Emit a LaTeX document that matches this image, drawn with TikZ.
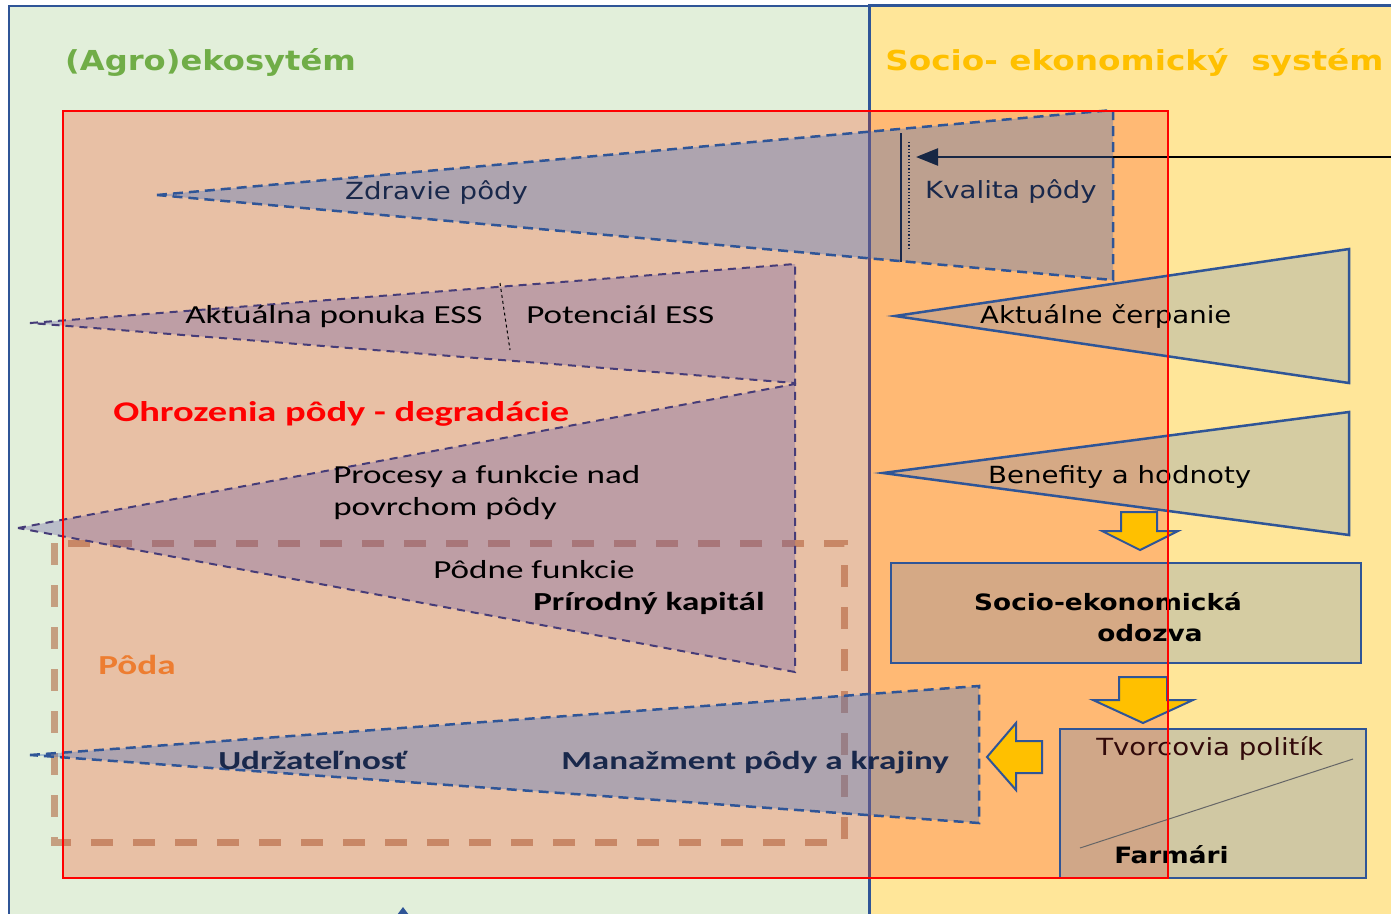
\documentclass[tikz,border=0pt]{standalone}
\usepackage{fontspec}
\setmainfont{DejaVu Sans}
\newfontfamily\calfont{Carlito}
\usepackage{xcolor}
\usetikzlibrary{arrows.meta}

\definecolor{ecogreen}{RGB}{226,239,218}
\definecolor{socyellow}{RGB}{255,230,153}
\definecolor{frameblue}{RGB}{47,85,151}
\definecolor{midblue}{RGB}{68,114,196}
\definecolor{titlegreen}{RGB}{112,173,71}
\definecolor{titlegold}{RGB}{255,192,0}
\definecolor{threatfill}{RGB}{255,45,0}
\definecolor{soilbrown}{RGB}{170,80,40}
\definecolor{essfill}{RGB}{95,80,165}
\definecolor{essline}{RGB}{70,60,120}
\definecolor{navytext}{RGB}{25,40,75}
\definecolor{podaorange}{RGB}{237,125,49}
\definecolor{policytext}{RGB}{50,10,10}

\begin{document}
\begin{tikzpicture}[x=1pt, y=-1pt,
    vlab/.style={inner sep=0pt, anchor=base west, xscale=1.17, font=\fontsize{23.6}{28}\selectfont},
    vbold/.style={vlab, font=\bfseries\fontsize{22.5}{27}\selectfont},
    title/.style={vlab, font=\bfseries\fontsize{27.5}{33}\selectfont},
    clab/.style={inner sep=0pt, anchor=base west, xscale=1.35, font=\calfont\fontsize{26}{31}\selectfont},
    cbold/.style={clab, font=\calfont\bfseries\fontsize{26}{31}\selectfont},
    healthwedge/.style={draw=frameblue, line width=2.5pt, dash pattern=on 10pt off 6pt, fill=midblue, fill opacity=.35},
    esswedge/.style={draw=essline, line width=2pt, dash pattern=on 8pt off 6pt, fill=essfill, fill opacity=.3},
    usewedge/.style={draw=frameblue, line width=2.5pt, fill=midblue, fill opacity=.22},
    sysbox/.style={rectangle, draw=frameblue, line width=2.5pt, fill=midblue, fill opacity=.22, inner sep=0pt},
    blockarrow/.style={draw=frameblue, line width=2pt, fill=titlegold, line join=miter}
  ]
  \useasboundingbox (0,0) rectangle (1391,913);
  \clip (0,0) rectangle (1391,913);

  % the two systems
  \draw[frameblue, line width=1.5pt, fill=ecogreen] (9,6) rectangle (869,940);
  \draw[frameblue, line width=3pt, fill=socyellow] (869,5) rectangle (1400,940);

  % threats area
  \coordinate (thr-nw) at (63,111);
  \coordinate (thr-se) at (1168,878);
  \fill[threatfill, fill opacity=.24] (thr-nw) rectangle (thr-se);

  % soil (Poda)
  \draw[soilbrown, draw opacity=.5, line width=7pt, dash pattern=on 22pt off 20pt] (54,543) rectangle (844,842);

  % quality arrow from the right
  \coordinate (qsrc) at (1400,157);
  \coordinate (qtip) at (916,157);
  \draw[-{Triangle[length=22pt,width=17pt]}, line width=2.5pt] (qsrc) -- (qtip);

  % wedges, agroecosystem side
  \draw[healthwedge] (157,195) -- (1113,110) -- (1113,280) -- cycle;
  \draw[esswedge] (30,323) -- (795,264) -- (795,383) -- cycle;
  \draw[esswedge] (18,528) -- (795,384) -- (795,672) -- cycle;
  \draw[healthwedge] (30,755) -- (979,686) -- (979,823) -- cycle;

  % separators
  \draw[navytext, line width=1.5pt] (901,133) -- (901,262);
  \draw[navytext, line width=1.3pt, dotted] (909,142) -- (909,248);
  \draw[black, line width=1pt, dash pattern=on 3pt off 3pt] (500,283) -- (510,350);

  % wedges, socio-economic side
  \draw[usewedge] (895,316) -- (1349,249) -- (1349,383) -- cycle;
  \draw[usewedge] (883,473) -- (1349,412) -- (1349,535) -- cycle;

  % boxes
  \node[sysbox, minimum width=470pt, minimum height=100pt] (odozvabox) at (1126,613) {};
  \node[sysbox, minimum width=306pt, minimum height=149pt, fill opacity=.25] (politikabox) at (1213,803.5) {};
  \draw[black!60, line width=1pt] (1080,848) -- (1353,759);

  % yellow arrows
  \draw[blockarrow] (1121,512) -- (1157,512) -- (1157,531) -- (1178,531) -- (1140,550) -- (1102,531) -- (1121,531) -- cycle;
  \draw[blockarrow] (1119,677) -- (1167,677) -- (1167,700) -- (1193,700) -- (1143,723) -- (1093,700) -- (1119,700) -- cycle;
  \draw[blockarrow] (1042,741) -- (1016,741) -- (1016,723) -- (987,757) -- (1016,790) -- (1016,773) -- (1042,773) -- cycle;

  % arrow coming from below
  \coordinate (botsrc) at (403,950);
  \coordinate (bottip) at (403,907);
  \draw[-{Triangle[length=9pt,width=13pt]}, frameblue, line width=2pt] (botsrc) -- (bottip);

  % titles
  \node[title, titlegreen] (agrotitle) at (65,70) {(Agro)ekosytém};
  \node[title, titlegold, xscale=1.19/1.17] (soctitle) at (885,70) {Socio- ekonomický~~systém};

  % labels
  \node[vlab, navytext] (zdravie) at (345,199) {Zdravie pôdy};
  \node[vlab, navytext] (kvalita) at (925,198) {Kvalita pôdy};
  \node[clab] (ponuka) at (185,323) {Aktuálna ponuka ESS};
  \node[clab] (potencial) at (526,323) {Potenciál ESS};
  \node[cbold, red, font=\calfont\bfseries\fontsize{28.5}{33}\selectfont] (ohrozenia) at (113,421) {Ohrozenia pôdy - degradácie};
  \node[clab] (procesyA) at (333,483) {Procesy a funkcie nad};
  \node[clab] (procesyB) at (333,515) {povrchom pôdy};
  \node[clab] (podnefunkcie) at (433,578) {Pôdne funkcie};
  \node[cbold] (kapital) at (533,610) {Prírodný kapitál};
  \node[cbold, podaorange, font=\calfont\bfseries\fontsize{27.5}{32}\selectfont] (poda) at (98,674) {Pôda};
  \node[cbold, navytext] (udrzatelnost) at (218,769) {Udržateľnosť};
  \node[cbold, navytext] (manazment) at (561,769) {Manažment pôdy a krajiny};
  \node[vlab] (cerpanie) at (980,323) {Aktuálne čerpanie};
  \node[vlab] (benefity) at (988,483) {Benefity a hodnoty};
  \node[vbold] (odozvaA) at (974,610) {Socio-ekonomická};
  \node[vbold] (odozvaB) at (1097,641) {odozva};
  \node[vlab, policytext] (tvorcovia) at (1096,755) {Tvorcovia politík};
  \node[vbold] (farmari) at (1114,863) {Farmári};

  % frame of the threats area
  \draw[red, line width=2.5pt] (thr-nw) rectangle (thr-se);
\end{tikzpicture}
\end{document}
